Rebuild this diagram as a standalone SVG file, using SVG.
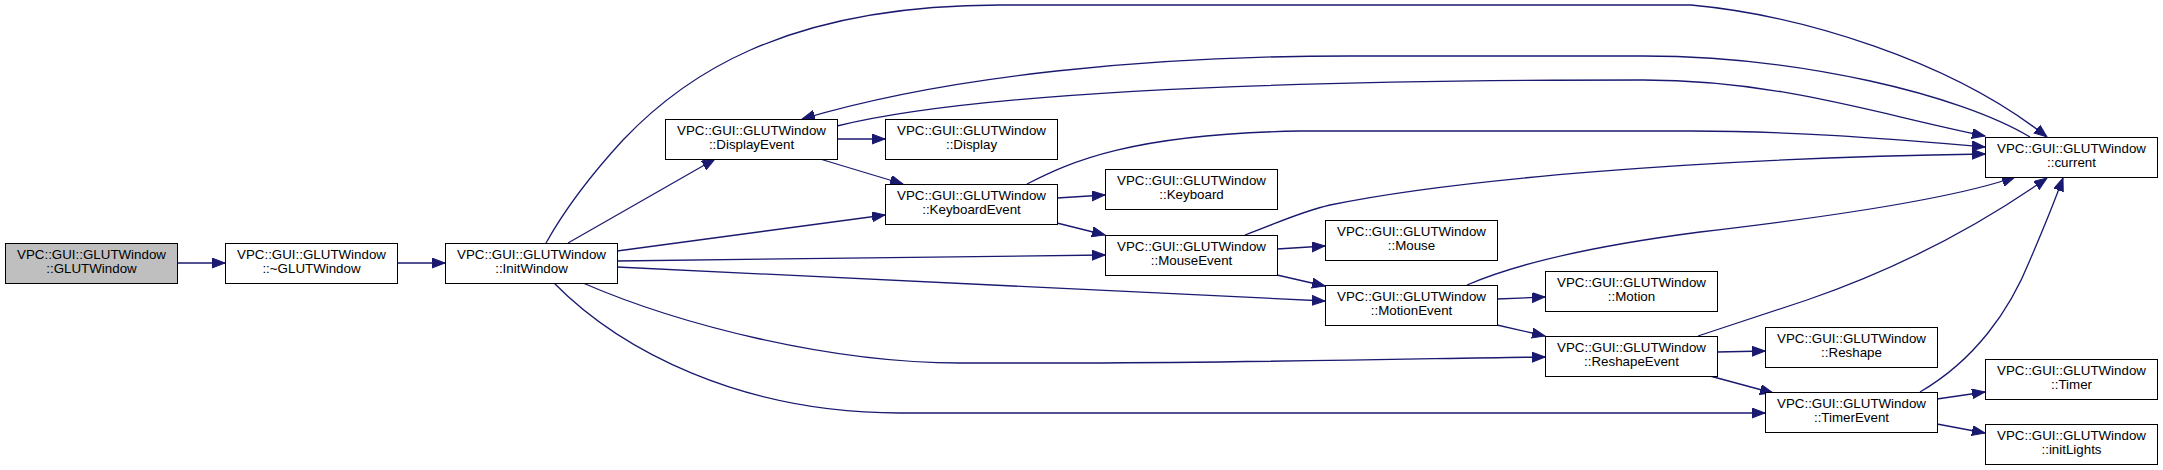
<svg xmlns="http://www.w3.org/2000/svg" width="2163" height="470" viewBox="0 0 2163 470">
<style>
.n rect{fill:#fff;stroke:#000;stroke-width:1}
.n.root rect{fill:#bfbfbf}
.n text{font-family:"Liberation Sans",Arial,sans-serif;font-size:13.33px;fill:#000;text-anchor:middle}
.e path{fill:none;stroke:#191970;stroke-width:1.3}
</style>
<defs>
<marker id="ah" markerUnits="userSpaceOnUse" markerWidth="14" markerHeight="11" refX="13" refY="5" orient="auto">
<path d="M0,0 L13,5 L0,10 z" fill="#191970" stroke="#191970" stroke-width="1"/>
</marker>
</defs>
<rect width="2163" height="470" fill="#fff"/>
<g id="edges" class="e">
<path marker-end="url(#ah)" d="M177,263 L225,263"/>
<path marker-end="url(#ah)" d="M397,263 L445,263"/>
<path marker-end="url(#ah)" d="M568,243 L715,159"/>
<path marker-end="url(#ah)" d="M546,243 C570,200 600,165 623,140 C680,80 780,5 1000,5 L1691,5 C1800,15 1950,60 2047,137"/>
<path marker-end="url(#ah)" d="M617,251 L885,215"/>
<path marker-end="url(#ah)" d="M617,261 L1105,255"/>
<path marker-end="url(#ah)" d="M617,267 L1325,301"/>
<path marker-end="url(#ah)" d="M583,283 C680,325 830,363 960,363 L1080,363 C1300,362 1450,358 1545,357"/>
<path marker-end="url(#ah)" d="M554,283 C620,350 740,413 900,413 L1765,413"/>
<path marker-end="url(#ah)" d="M837,139 L885,139"/>
<path marker-end="url(#ah)" d="M820,159 L903,184"/>
<path marker-end="url(#ah)" d="M2030,137 C1960,95 1800,56 1643,56 L1350,56 C1150,56 950,75 802,119"/>
<path marker-end="url(#ah)" d="M837,126 C950,98 1200,80 1643,80 C1780,80 1880,115 1985,136"/>
<path marker-end="url(#ah)" d="M1027,184 C1070,162 1130,134 1300,131 L1691,131 C1800,131 1900,140 1985,147"/>
<path marker-end="url(#ah)" d="M1057,198 L1105,195"/>
<path marker-end="url(#ah)" d="M1057,223 L1105,235"/>
<path marker-end="url(#ah)" d="M1277,249 L1325,246"/>
<path marker-end="url(#ah)" d="M1277,275 L1325,286"/>
<path marker-end="url(#ah)" d="M1245,235 C1280,222 1300,212 1330,205 C1450,180 1700,158 1985,154"/>
<path marker-end="url(#ah)" d="M1497,299 L1545,297"/>
<path marker-end="url(#ah)" d="M1497,325 L1545,336"/>
<path marker-end="url(#ah)" d="M1467,285 C1520,262 1600,245 1700,232 C1820,218 1950,200 2015,177"/>
<path marker-end="url(#ah)" d="M1717,352 L1765,351"/>
<path marker-end="url(#ah)" d="M1710,376 L1773,393"/>
<path marker-end="url(#ah)" d="M1698,336 L1807,300 C1900,268 1980,225 2047,178"/>
<path marker-end="url(#ah)" d="M1937,399 L1985,392"/>
<path marker-end="url(#ah)" d="M1937,424 L1985,433"/>
<path marker-end="url(#ah)" d="M1920,392 C1975,360 2010,310 2030,260 C2045,225 2055,200 2063,178"/>
</g>
<g id="node_glutwindow" class="n root"><rect x="5.5" y="243.5" width="172" height="40"/><text x="91.5" y="259">VPC::GUI::GLUTWindow</text><text x="91.5" y="273">::GLUTWindow</text></g>
<g id="node_dtor" class="n"><rect x="225.5" y="243.5" width="172" height="40"/><text x="311.5" y="259">VPC::GUI::GLUTWindow</text><text x="311.5" y="273">::~GLUTWindow</text></g>
<g id="node_initwindow" class="n"><rect x="445.5" y="243.5" width="172" height="40"/><text x="531.5" y="259">VPC::GUI::GLUTWindow</text><text x="531.5" y="273">::InitWindow</text></g>
<g id="node_displayevent" class="n"><rect x="665.5" y="119.5" width="172" height="40"/><text x="751.5" y="135">VPC::GUI::GLUTWindow</text><text x="751.5" y="149">::DisplayEvent</text></g>
<g id="node_display" class="n"><rect x="885.5" y="119.5" width="172" height="40"/><text x="971.5" y="135">VPC::GUI::GLUTWindow</text><text x="971.5" y="149">::Display</text></g>
<g id="node_keyboardevent" class="n"><rect x="885.5" y="184.5" width="172" height="40"/><text x="971.5" y="200">VPC::GUI::GLUTWindow</text><text x="971.5" y="214">::KeyboardEvent</text></g>
<g id="node_keyboard" class="n"><rect x="1105.5" y="169.5" width="172" height="40"/><text x="1191.5" y="185">VPC::GUI::GLUTWindow</text><text x="1191.5" y="199">::Keyboard</text></g>
<g id="node_mouseevent" class="n"><rect x="1105.5" y="235.5" width="172" height="40"/><text x="1191.5" y="251">VPC::GUI::GLUTWindow</text><text x="1191.5" y="265">::MouseEvent</text></g>
<g id="node_mouse" class="n"><rect x="1325.5" y="220.5" width="172" height="40"/><text x="1411.5" y="236">VPC::GUI::GLUTWindow</text><text x="1411.5" y="250">::Mouse</text></g>
<g id="node_motionevent" class="n"><rect x="1325.5" y="285.5" width="172" height="40"/><text x="1411.5" y="301">VPC::GUI::GLUTWindow</text><text x="1411.5" y="315">::MotionEvent</text></g>
<g id="node_motion" class="n"><rect x="1545.5" y="271.5" width="172" height="40"/><text x="1631.5" y="287">VPC::GUI::GLUTWindow</text><text x="1631.5" y="301">::Motion</text></g>
<g id="node_reshapeevent" class="n"><rect x="1545.5" y="336.5" width="172" height="40"/><text x="1631.5" y="352">VPC::GUI::GLUTWindow</text><text x="1631.5" y="366">::ReshapeEvent</text></g>
<g id="node_reshape" class="n"><rect x="1765.5" y="327.5" width="172" height="40"/><text x="1851.5" y="343">VPC::GUI::GLUTWindow</text><text x="1851.5" y="357">::Reshape</text></g>
<g id="node_timerevent" class="n"><rect x="1765.5" y="392.5" width="172" height="40"/><text x="1851.5" y="408">VPC::GUI::GLUTWindow</text><text x="1851.5" y="422">::TimerEvent</text></g>
<g id="node_timer" class="n"><rect x="1985.5" y="359.5" width="172" height="40"/><text x="2071.5" y="375">VPC::GUI::GLUTWindow</text><text x="2071.5" y="389">::Timer</text></g>
<g id="node_initlights" class="n"><rect x="1985.5" y="424.5" width="172" height="40"/><text x="2071.5" y="440">VPC::GUI::GLUTWindow</text><text x="2071.5" y="454">::initLights</text></g>
<g id="node_current" class="n"><rect x="1985.5" y="137.5" width="172" height="40"/><text x="2071.5" y="153">VPC::GUI::GLUTWindow</text><text x="2071.5" y="167">::current</text></g>
</svg>
